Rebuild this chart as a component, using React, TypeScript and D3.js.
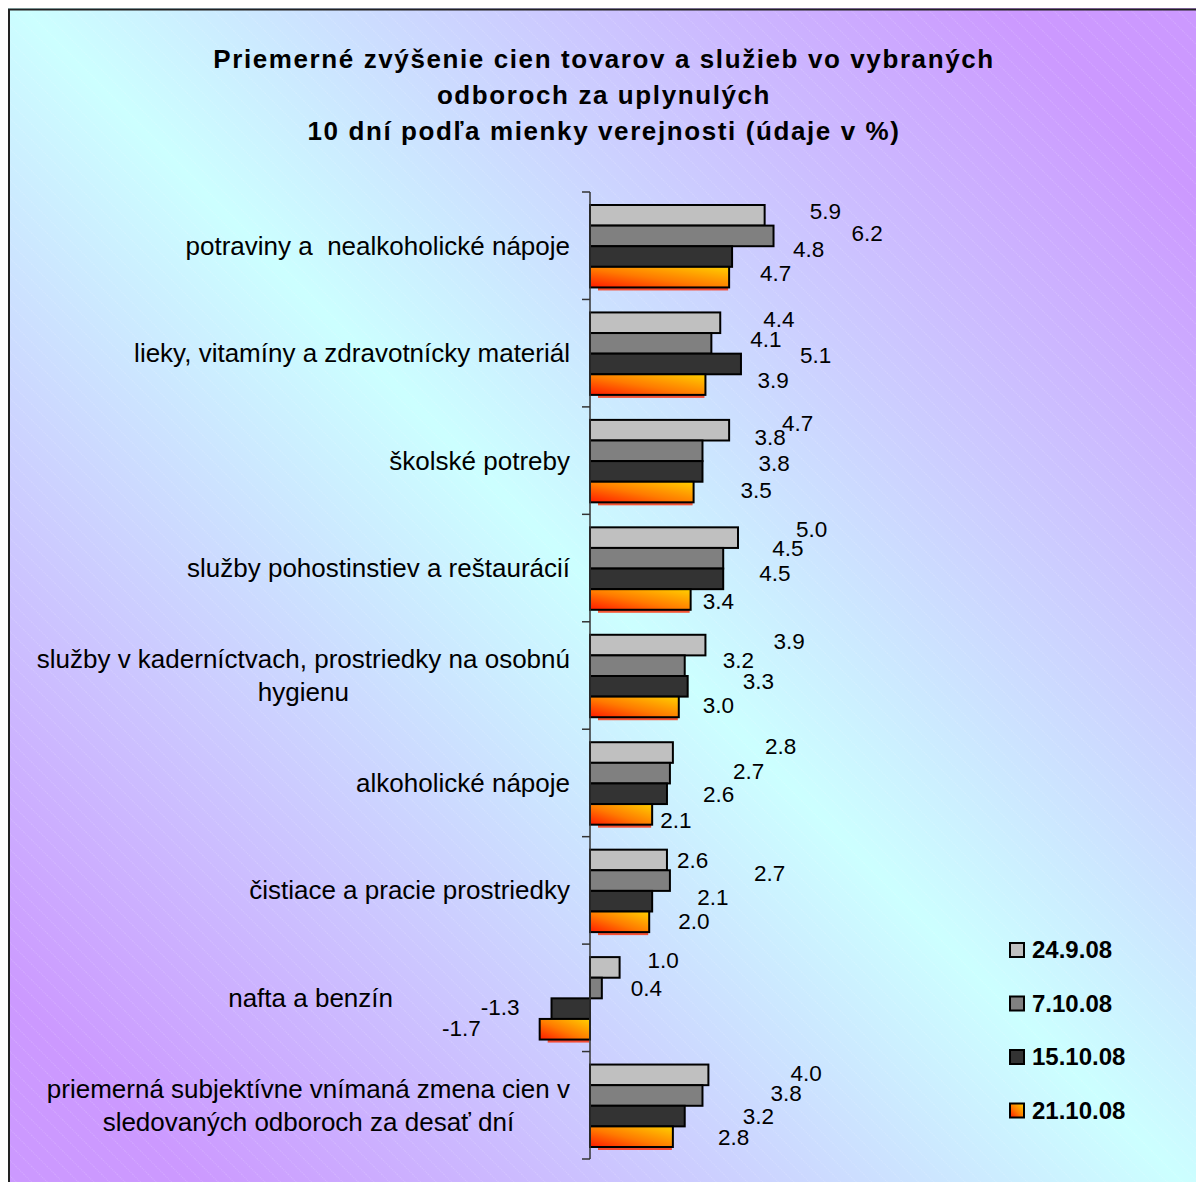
import React, { useEffect, useRef } from "react";
import * as d3 from "d3";

const categories: string[][] = [
  ["potraviny a  nealkoholické nápoje"],
  ["lieky, vitamíny a zdravotnícky materiál"],
  ["školské potreby"],
  ["služby pohostinstiev a reštaurácií"],
  ["služby v kaderníctvach, prostriedky na osobnú", "hygienu"],
  ["alkoholické nápoje"],
  ["čistiace a pracie prostriedky"],
  ["nafta a benzín"],
  ["priemerná subjektívne vnímaná zmena cien v", "sledovaných odboroch za desať dní"],
];

const seriesNames = ["24.9.08", "7.10.08", "15.10.08", "21.10.08"];
const s2409 = [5.9, 4.4, 4.7, 5.0, 3.9, 2.8, 2.6, 1.0, 4.0];
const s0710 = [6.2, 4.1, 3.8, 4.5, 3.2, 2.7, 2.7, 0.4, 3.8];
const s1510 = [4.8, 5.1, 3.8, 4.5, 3.3, 2.6, 2.1, -1.3, 3.2];
const s2110 = [4.7, 3.9, 3.5, 3.4, 3.0, 2.1, 2.0, -1.7, 2.8];
const seriesValues = [s2409, s0710, s1510, s2110];

// label layout offsets (px) relative to bar end / bar centre: [dx, dy]
const labelOffsets: number[][][] = [
  [[45, -4], [78, -3], [61, -7], [31, -4]],
  [[43, -4], [39, -4], [59, -9], [52, -4]],
  [[53, -7], [52, -14], [56, -8], [47, -2]],
  [[58, -9], [49, -10], [36, -6], [12, 2]],
  [[68, -4], [38, -6], [55, -5], [24, -2]],
  [[92, -6], [63, -2], [36, 0], [8, 6]],
  [[10, 0], [84, -7], [45, -4], [29, -1]],
  [[28, -7], [29, 0], [-32, -2], [-59, -1]],
  [[82, -2], [68, -2], [58, 0], [45, 0]],
];

const titleLines = [
  "Priemerné zvýšenie cien tovarov a služieb vo vybraných",
  "odboroch za uplynulých",
  "10 dní podľa mienky verejnosti (údaje v %)",
];

const VW = 1196;
const VH = 1182;
const W = 1188;
const H = 1174;
const FONT = "'Liberation Sans', Arial, Helvetica, sans-serif";

export default function App() {
  const ref = useRef<SVGSVGElement | null>(null);

  useEffect(() => {
    const root = d3.select(ref.current);
    root.selectAll("*").remove();

    const defs = root.append("defs");
    const bg = defs
      .append("linearGradient")
      .attr("id", "bg")
      .attr("gradientUnits", "userSpaceOnUse")
      .attr("x1", 0)
      .attr("y1", H)
      .attr("x2", W)
      .attr("y2", 0);
    bg.append("stop").attr("offset", "0").attr("stop-color", "#cc99ff");
    bg.append("stop").attr("offset", "0.08").attr("stop-color", "#cc99ff");
    bg.append("stop").attr("offset", "0.5").attr("stop-color", "#ccffff");
    bg.append("stop").attr("offset", "0.92").attr("stop-color", "#cc99ff");
    bg.append("stop").attr("offset", "1").attr("stop-color", "#cc99ff");

    const pat = defs
      .append("pattern")
      .attr("id", "stripes")
      .attr("patternUnits", "userSpaceOnUse")
      .attr("width", 11)
      .attr("height", 11)
      .attr("patternTransform", "rotate(-45)");
    pat
      .append("line")
      .attr("x1", 0)
      .attr("y1", 0)
      .attr("x2", 0)
      .attr("y2", 11)
      .attr("stroke", "#ffffff")
      .attr("stroke-opacity", 0.3)
      .attr("stroke-width", 1)
      .attr("stroke-dasharray", "1,1");

    const og = defs
      .append("linearGradient")
      .attr("id", "orange")
      .attr("x1", 0)
      .attr("y1", 1)
      .attr("x2", 1)
      .attr("y2", 0);
    og.append("stop").attr("offset", "0").attr("stop-color", "#ff1a00");
    og.append("stop").attr("offset", "0.45").attr("stop-color", "#ff7a00");
    og.append("stop").attr("offset", "1").attr("stop-color", "#ffd000");

    const svg = root.append("g").attr("transform", "translate(8,8)");

    svg.append("rect").attr("width", W + 20).attr("height", H + 20).attr("fill", "url(#bg)");
    svg.append("rect").attr("width", W + 20).attr("height", H + 20).attr("fill", "url(#stripes)");
    svg
      .append("rect")
      .attr("x", 1)
      .attr("y", 1.5)
      .attr("width", W + 20)
      .attr("height", H + 20)
      .attr("fill", "none")
      .attr("stroke", "#222")
      .attr("stroke-width", 2);

    // title
    const title = svg
      .append("text")
      .attr("font-family", FONT)
      .attr("font-size", 26)
      .attr("font-weight", "bold")
      .attr("letter-spacing", 1.6)
      .attr("text-anchor", "middle")
      .attr("fill", "#000");
    titleLines.forEach((t, i) => {
      title
        .append("tspan")
        .attr("x", 596)
        .attr("y", 51 + i * 36)
        .attr("dy", "0.35em")
        .text(t);
    });

    const x = d3.scaleLinear().domain([-2, 7]).range([582 - 2 * 29.6, 582 + 7 * 29.6]);
    const y = d3
      .scaleBand<number>()
      .domain(d3.range(categories.length))
      .range([184, 1151])
      .padding(0);
    const step = y.step();
    const inner = d3
      .scaleBand<number>()
      .domain(d3.range(seriesNames.length))
      .range([13, step - 12])
      .padding(0);

    const fills = ["#c0c0c0", "#808080", "#333333", "url(#orange)"];

    const g = svg.append("g");
    categories.forEach((_, ci) => {
      const gy = y(ci)!;
      seriesValues.forEach((vals, si) => {
        const v = vals[ci];
        const by = gy + inner(si)!;
        const bh = inner.bandwidth();
        const x0 = x(Math.min(0, v));
        const x1 = x(Math.max(0, v));
        if (si === 3) {
          g.append("rect")
            .attr("x", x0 + 8)
            .attr("y", by + 3)
            .attr("width", Math.max(0, x1 - x0 - 9))
            .attr("height", bh)
            .attr("fill", "#ff2a00")
            .attr("opacity", 0.8);
        }
        g.append("rect")
          .attr("x", x0)
          .attr("y", by)
          .attr("width", x1 - x0)
          .attr("height", bh)
          .attr("fill", fills[si])
          .attr("stroke", "#000")
          .attr("stroke-width", 2);
        const [dx, dy] = labelOffsets[ci][si];
        const endX = v >= 0 ? x1 : x0;
        g.append("text")
          .attr("x", endX + dx)
          .attr("y", by + bh / 2 + dy)
          .attr("dy", "0.35em")
          .attr("text-anchor", v >= 0 ? "start" : "end")
          .attr("font-family", FONT)
          .attr("font-size", 22.5)
          .attr("fill", "#000")
          .text(v.toFixed(1));
      });
    });

    // axis
    const axis = svg.append("g").attr("stroke", "#333").attr("stroke-width", 1.5);
    axis
      .append("line")
      .attr("x1", x(0))
      .attr("x2", x(0))
      .attr("y1", 184)
      .attr("y2", 1151);
    d3.range(categories.length + 1).forEach((i) => {
      const ty = 184 + i * step;
      axis
        .append("line")
        .attr("x1", x(0) - 8)
        .attr("x2", x(0))
        .attr("y1", ty)
        .attr("y2", ty);
    });

    // category labels
    categories.forEach((lines, ci) => {
      const cy = y(ci)! + step / 2;
      const right = ci === 7 ? 385 : 562;
      const t = svg
        .append("text")
        .attr("font-family", FONT)
        .attr("font-size", 26)
        .attr("fill", "#000")
        .attr("text-anchor", "middle")
        .style("white-space", "pre");
      const spans = lines.map((line, li) =>
        t
          .append("tspan")
          .attr("y", cy + (li - (lines.length - 1) / 2) * 33)
          .attr("dy", "0.35em")
          .text(line)
      );
      const widths = spans.map((s) => (s.node() as SVGTSpanElement).getComputedTextLength());
      const maxW = Math.max(...widths);
      spans.forEach((s) => s.attr("x", right - maxW / 2));
    });

    // legend
    const leg = svg.append("g");
    seriesNames.forEach((name, si) => {
      const ly = 942 + si * 53.5;
      leg
        .append("rect")
        .attr("x", 1002)
        .attr("y", ly - 7)
        .attr("width", 14)
        .attr("height", 14)
        .attr("fill", fills[si])
        .attr("stroke", "#000")
        .attr("stroke-width", 2);
      leg
        .append("text")
        .attr("x", 1024)
        .attr("y", ly)
        .attr("dy", "0.35em")
        .attr("font-family", FONT)
        .attr("font-size", 24)
        .attr("font-weight", "bold")
        .attr("fill", "#000")
        .text(name);
    });
  }, []);

  return (
    <svg
      ref={ref}
      width={VW}
      height={VH}
      style={{ display: "block", position: "fixed", left: 0, top: 0 }}
    />
  );
}
